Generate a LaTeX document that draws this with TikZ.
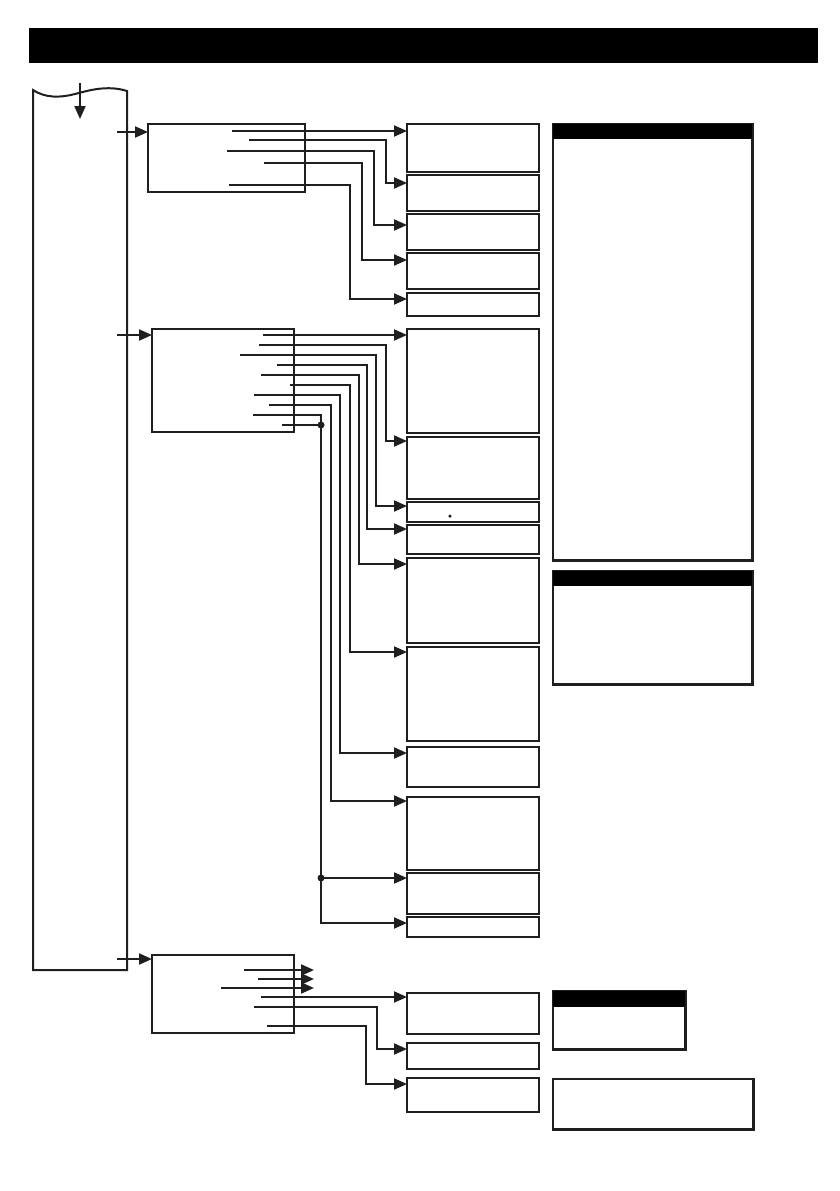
\documentclass[tikz,border=0pt]{standalone}
\usetikzlibrary{arrows.meta}
\begin{document}
\begin{tikzpicture}[x=1pt,y=-1pt,
  ln/.style={line width=2pt,draw=black!88},
  arr/.style={ln,-{Triangle[length=13pt,width=11pt]}},
  bx/.style={draw=black!88,line width=2pt,inner sep=0pt,outer sep=0pt,anchor=north west},
  rbx/.style={draw=black!88,line width=1.8pt,inner sep=0pt,outer sep=0pt,anchor=north west},
  jdot/.style={circle,fill=black!88,inner sep=0pt,minimum size=7pt}]
\useasboundingbox (0,0) rectangle (839,1191);
\newcommand\mybox[5]{\node[bx,minimum width=#4pt,minimum height=#5pt] (#1) at (#2,#3) {};}
\newcommand\rbox[5]{\node[rbx,minimum width=#4pt,minimum height=#5pt] (#1) at (#2,#3) {};
  \draw[line width=3.2pt,draw=black!88] ([xshift=0.8pt,yshift=1pt]#1.north east) -- ([xshift=0.8pt,yshift=-0.8pt]#1.south east) -- ([xshift=-0.8pt,yshift=-0.8pt]#1.south west);}
% title bar
\node[fill=black,inner sep=0pt,minimum width=789pt,minimum height=35pt,anchor=north west] (title) at (29,28) {};
% main column
\draw[ln] (33,970) -- (33,90) .. controls (45,98) and (60,98) .. (75,94) .. controls (90,90) and (108,85) .. (127,91) -- (127,970) -- cycle;
\coordinate (d0) at (80,83); \coordinate (d1) at (80,119);
\draw[arr] (d0) -- (d1);
% source boxes
\mybox{A}{148}{124}{157}{68}
\mybox{B}{152}{329}{142}{103}
\mybox{C}{152}{955}{142}{78}
\coordinate (ia) at (117,132); \draw[arr] (ia) -- (ia -| A.west);
\coordinate (ib) at (117,335); \draw[arr] (ib) -- (ib -| B.west);
\coordinate (ic) at (117,959); \draw[arr] (ic) -- (ic -| C.west);
% target boxes
\mybox{t1}{407}{124}{132}{48}
\mybox{t2}{407}{175}{132}{36}
\mybox{t3}{407}{214}{132}{36}
\mybox{t4}{407}{253}{132}{36}
\mybox{t5}{407}{293}{132}{23}
\mybox{t6}{407}{329}{132}{104}
\mybox{t7}{407}{437}{132}{62}
\mybox{t8}{407}{502}{132}{20}
\mybox{t9}{407}{525}{132}{29}
\mybox{t10}{407}{558}{132}{85}
\mybox{t11}{407}{647}{132}{94}
\mybox{t12}{407}{747}{132}{40}
\mybox{t13}{407}{797}{132}{73}
\mybox{t14}{407}{873}{132}{41}
\mybox{t15}{407}{917}{132}{20}
\mybox{t16}{407}{993}{132}{41}
\mybox{t17}{407}{1043}{132}{26}
\mybox{t18}{407}{1078}{132}{34}
\node[circle,fill=black!88,inner sep=0pt,minimum size=3.5pt] (mk) at (450,516) {};
% top group connectors
\coordinate (a1) at (232,131); \draw[arr] (a1) -- (a1 -| t1.west);
\coordinate (a2) at (249,140); \coordinate (b2) at (386,183); \coordinate (e2) at (407,183);
\draw[arr] (a2) -| (b2) -- (e2);
\coordinate (a3) at (227,151); \coordinate (b3) at (374,225); \coordinate (e3) at (407,225);
\draw[arr] (a3) -| (b3) -- (e3);
\coordinate (a4) at (264,163); \coordinate (b4) at (362,260); \coordinate (e4) at (407,260);
\draw[arr] (a4) -| (b4) -- (e4);
\coordinate (a5) at (229,185); \coordinate (b5) at (350,299); \coordinate (e5) at (407,299);
\draw[arr] (a5) -| (b5) -- (e5);
% middle group connectors
\coordinate (m1) at (263,335); \draw[arr] (m1) -- (m1 -| t6.west);
\coordinate (m2) at (259,345); \coordinate (n2) at (386,441); \coordinate (f2) at (407,441);
\draw[arr] (m2) -| (n2) -- (f2);
\coordinate (m3) at (240,355); \coordinate (n3) at (376,506); \coordinate (f3) at (407,506);
\draw[arr] (m3) -| (n3) -- (f3);
\coordinate (m4) at (277,365); \coordinate (n4) at (367,529); \coordinate (f4) at (407,529);
\draw[arr] (m4) -| (n4) -- (f4);
\coordinate (m5) at (261,375); \coordinate (n5) at (359,564); \coordinate (f5) at (407,564);
\draw[arr] (m5) -| (n5) -- (f5);
\coordinate (m6) at (290,385); \coordinate (n6) at (350,652); \coordinate (f6) at (407,652);
\draw[arr] (m6) -| (n6) -- (f6);
\coordinate (m7) at (254,395); \coordinate (n7) at (340,753); \coordinate (f7) at (407,753);
\draw[arr] (m7) -| (n7) -- (f7);
\coordinate (m8) at (269,405); \coordinate (n8) at (331,801); \coordinate (f8) at (407,801);
\draw[arr] (m8) -| (n8) -- (f8);
\coordinate (m9) at (253,415); \coordinate (m10) at (282,425);
\coordinate (e14) at (407,878); \coordinate (e15) at (407,923);
\node[jdot] (j1) at (321,425) {};
\node[jdot] (j2) at (321,878) {};
\draw[ln] (m9) -| (j1.center);
\draw[ln] (m10) -- (j1.center);
\draw[ln] (j1.center) -- (j2.center);
\draw[arr] (j2.center) -- (e14);
\draw[arr] (j1.center) |- (e15);
% bottom group connectors
\coordinate (c1) at (244,970); \coordinate (x1) at (314,970); \draw[arr] (c1) -- (x1);
\coordinate (c2) at (258,979); \coordinate (x2) at (314,979); \draw[arr] (c2) -- (x2);
\coordinate (c3) at (221,988); \coordinate (x3) at (314,988); \draw[arr] (c3) -- (x3);
\coordinate (c4) at (261,997); \draw[arr] (c4) -- (c4 -| t16.west);
\coordinate (c5) at (254,1007); \coordinate (g5) at (377,1049); \coordinate (h5) at (407,1049);
\draw[arr] (c5) -| (g5) -- (h5);
\coordinate (c6) at (267,1026); \coordinate (g6) at (366,1084); \coordinate (h6) at (407,1084);
\draw[arr] (c6) -| (g6) -- (h6);
% right-hand panels
\rbox{r1}{553}{124}{199}{436}
\fill[black] (r1.north west) rectangle ([yshift=-15pt]r1.north east);
\rbox{r2}{553}{571}{199}{113}
\fill[black] (r2.north west) rectangle ([yshift=-15pt]r2.north east);
\rbox{r3}{553}{991}{132}{58}
\fill[black] (r3.north west) rectangle ([yshift=-16pt]r3.north east);
\rbox{r4}{553}{1079}{200}{50}
\end{tikzpicture}
\end{document}
